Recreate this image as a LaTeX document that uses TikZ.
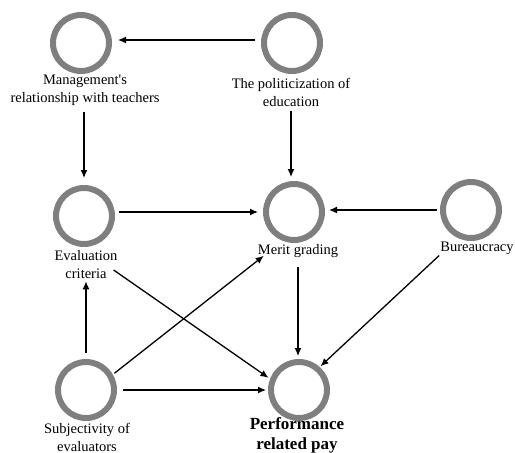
\documentclass[tikz,border=0pt]{standalone}
\usepackage{fontspec}
\setmainfont{Liberation Serif}
\usetikzlibrary{arrows.meta}
\definecolor{ringgray}{HTML}{7F7F7F}

\begin{document}
\begin{tikzpicture}[x=1pt, y=-1pt,
        ring/.style={circle, draw=ringgray, line width=6pt, minimum size=56pt, inner sep=0pt},
        lbl/.style={inner sep=1pt, align=center, font=\fontsize{14.5}{18}\selectfont},
        arr/.style={-{Latex[length=8pt,width=7pt]}, line width=1.3pt}]
        \useasboundingbox (0,0) rectangle (515,453);

        \node[ring] (man) at (81, 43) {};
        \node[ring] (pol) at (292, 43) {};
        \node[ring] (eva) at (84, 216) {};
        \node[ring] (mer) at (294, 212) {};
        \node[ring] (bur) at (471, 210) {};
        \node[ring] (subj) at (86, 390) {};
        \node[ring] (perf) at (299, 390) {};

        \node[lbl] (manlab) at (85, 90) {Management\textquotesingle s\\relationship with teachers};
        \node[lbl] (pollab) at (291, 92) {The politicization of\\education};
        \node[lbl] (evalab) at (86, 265) {Evaluation\\criteria};
        \node[lbl] (merlab) at (298, 251) {Merit grading};
        \node[lbl] (burlab) at (477, 248) {Bureaucracy};
        \node[lbl] (subjlab) at (87, 437) {Subjectivity of\\evaluators};
        \node[lbl, font=\fontsize{17}{20}\selectfont\bfseries] (perflab) at (297, 435) {Performance\\related pay};

        \draw[arr, shorten <=6pt, shorten >=6pt] ([yshift=3pt]pol.west) -- ([yshift=3pt]man.east);
        \draw[arr, shorten <=6pt, shorten >=7pt] (eva.north |- manlab.south) -- (eva.north);
        \draw[arr, shorten <=4pt, shorten >=4pt] (pollab.south) -- (pollab.south |- mer.north);
        \draw[arr, shorten <=4pt, shorten >=5pt] (eva.east |- mer.west) -- (mer.west);
        \draw[arr, shorten <=3pt, shorten >=4pt] (bur.west) -- (bur.west -| mer.east);
        \draw[arr, shorten <=6pt, shorten >=1pt] (subj.north) -- (subj.north |- evalab.south);
        \draw[arr, shorten >=2pt] ([shift={(-5pt,-5pt)}]evalab.east) -- (perf.159);
        \draw[arr, shorten <=2pt] (subj.30) -- ([shift={(7pt,3pt)}]merlab.south west);
        \draw[arr, shorten <=6pt, shorten >=2pt] (subj.east) -- (perf.west);
        \draw[arr, shorten <=8pt, shorten >=3pt] (merlab.south) -- (merlab.south |- perf.north);
        \draw[arr, shorten >=1pt] (burlab.south west) -- (perf.48);
    \end{tikzpicture}
\end{document}
